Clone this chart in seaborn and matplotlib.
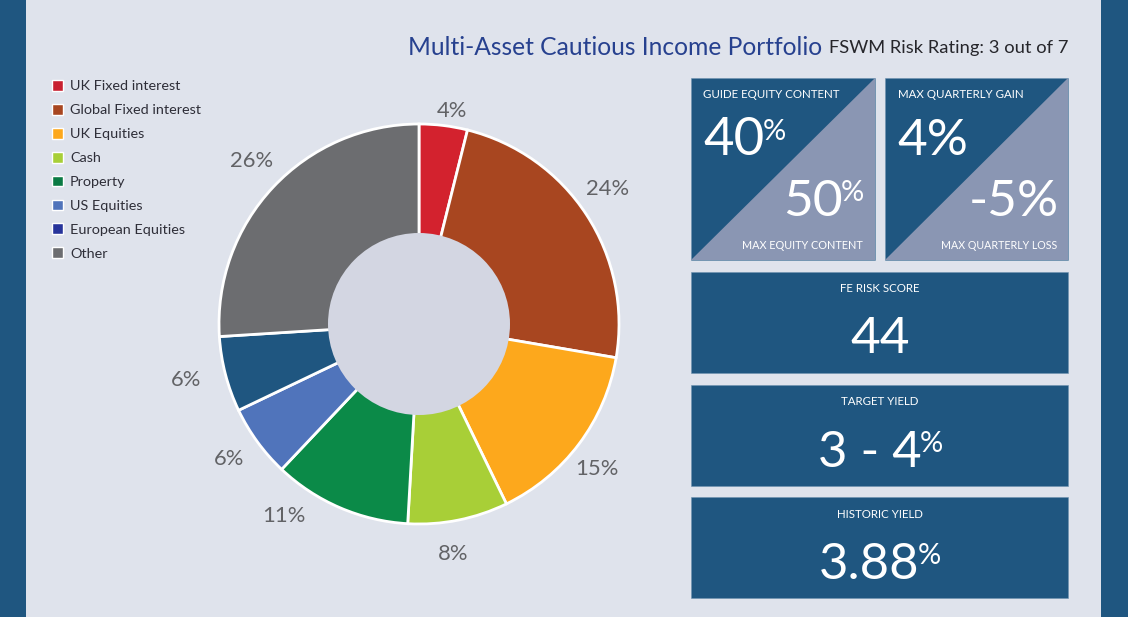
import matplotlib
matplotlib.use("Agg")
import matplotlib.pyplot as plt
import seaborn as sns
from matplotlib.patches import Circle, Patch, Polygon, Rectangle

categories = ["UK Fixed interest", "Global Fixed interest", "UK Equities", "Cash",
              "Property", "US Equities", "European Equities", "Other"]
values = [3.9, 23.8, 15.1, 8.1, 11.15, 5.85, 6.1, 26.0]
legend_colors = ["#c8202f", "#a84620", "#fda81c", "#a8cf37", "#0b7a44", "#5074bb", "#27349b", "#6c6d70"]
slice_colors = ["#d3222e", "#a84620", "#fda81c", "#a8cf37", "#0b8a48", "#5074bb", "#1f5680", "#6c6d70"]

title = "Multi-Asset Cautious Income Portfolio"
subtitle = "FSWM Risk Rating: 3 out of 7"

# where the pie labels sit, in pixels
label_px = [(452, 111), (608, 189), (597, 469), (453, 554),
            (284, 516), (229, 459), (186, 380), (252, 161)]

BLUE = "#1f5680"
GREY = "#8a96b3"
EDGE = "#6f93b0"
BG = "#dfe3ec"
W, H = 1128, 619

sns.set_theme(style="white", font="Lato")
palette = sns.color_palette(slice_colors)

fig = plt.figure(figsize=(W / 100, H / 100), dpi=100, facecolor="white")

# full figure axes in pixel coords for the panels
bg = fig.add_axes([0, 0, 1, 1])
bg.set_xlim(0, W)
bg.set_ylim(H, 0)
bg.axis("off")
bg.add_patch(Rectangle((0, 0), W, 617, color=BG, lw=0))
bg.add_patch(Rectangle((0, 0), 26, 617, color=BLUE, lw=0))
bg.add_patch(Rectangle((1101, 0), 27, 617, color=BLUE, lw=0))


def pct_text(x, y, main, size, sup=True, ha="left"):
    # big number with a small raised % next to it
    t = bg.text(x, y, main, color="white", fontsize=size, ha=ha, va="baseline", family="Lato")
    if sup:
        fig.canvas.draw()
        box = t.get_window_extent()
        x1 = bg.transData.inverted().transform((box.x1, 0))[0]
        bg.text(x1 - 2, y - 15.5, "%", color="white", fontsize=21,
                ha="left", va="baseline", family="Lato")


def small(x, y, s, ha="left", size=8.3):
    bg.text(x, y, s, color="white", fontsize=size, ha=ha, va="center", family="Lato")


for x0, x1 in [(691, 874.5), (885, 1068)]:
    bg.add_patch(Rectangle((x0, 78), x1 - x0, 182, facecolor=BLUE, edgecolor=EDGE, lw=0.4))
    bg.add_patch(Polygon([(x1, 78), (x1, 260), (x0, 260)], color=GREY, lw=0))

for y0, y1 in [(272, 373), (384.5, 485.5), (497, 598)]:
    bg.add_patch(Rectangle((691, y0), 377, y1 - y0, facecolor=BLUE, edgecolor=EDGE, lw=0.4))

small(703, 95, "GUIDE EQUITY CONTENT")
pct_text(703, 155, "40", 38)
pct_text(783, 216.5, "50", 37)
small(863, 245.5, "MAX EQUITY CONTENT", ha="right", size=7.8)

small(897.5, 95, "MAX QUARTERLY GAIN")
pct_text(897, 155, "4%", 37, sup=False)
pct_text(1059, 216.5, "-5%", 37, sup=False, ha="right")
small(1057, 245.5, "MAX QUARTERLY LOSS", ha="right", size=7.7)

small(880, 289, "FE RISK SCORE", ha="center")
bg.text(880, 353, "44", color="white", fontsize=37, ha="center", va="baseline", family="Lato")
small(880, 401.5, "TARGET YIELD", ha="center")
pct_text(818, 467, "3 - 4", 36.5)
small(880, 514, "HISTORIC YIELD", ha="center")
pct_text(819, 579, "3.88", 36.5)

bg.text(408, 47.5, title, color="#27418f", fontsize=17.7, ha="left", va="center", family="Lato")
bg.text(1068.5, 48, subtitle, color="#26262b", fontsize=13.2, ha="right", va="center", family="Lato")

# donut
cx, cy, r = 419, 324, 200
pad = 1.3
ax = fig.add_axes([(cx - r * pad) / W, 1 - (cy + r * pad) / H, 2 * r * pad / W, 2 * r * pad / H])
ax.patch.set_alpha(0)
wedges, texts = ax.pie(values, colors=palette, startangle=90, counterclock=False,
                       labels=[f"{v:.0f}%" for v in values],
                       wedgeprops={"edgecolor": "white", "linewidth": 2},
                       textprops={"fontsize": 15.8, "color": "#626366", "family": "Lato"})
for t, (px, py) in zip(texts, label_px):
    t.set_ha("center")
    t.set_va("center")
    t.set_position(((px - cx) / r, (cy - py) / r))
ax.add_patch(Circle((0, 0), 0.455, facecolor="#d3d6e2", edgecolor="none", zorder=5))
ax.set_xlim(-pad, pad)
ax.set_ylim(-pad, pad)

handles = [Patch(facecolor=c, edgecolor="white", linewidth=1, label=n)
           for c, n in zip(legend_colors, categories)]
bg.legend(handles=handles, loc="upper left", bbox_to_anchor=(52 / W, 1 - 78 / H + -2 / H),
          bbox_transform=fig.transFigure, frameon=False, fontsize=10.35,
          labelcolor="#2e2e38", handlelength=0.78, handleheight=0.78, handletextpad=0.48,
          labelspacing=0.80, borderpad=0, borderaxespad=0)

fig.savefig("out.png", dpi=100, facecolor="white")
